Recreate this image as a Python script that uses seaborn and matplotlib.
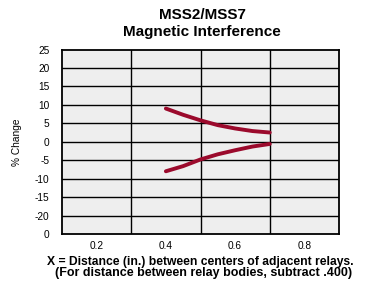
import matplotlib
matplotlib.use("Agg")
import matplotlib.pyplot as plt
import seaborn as sns
import pandas as pd

# Data
x_vals = [0.4, 0.45, 0.5, 0.55, 0.6, 0.65, 0.7]
upper_vals = [9.0, 7.3, 5.8, 4.5, 3.6, 2.9, 2.5]
lower_vals = [-8.0, -6.6, -4.8, -3.4, -2.3, -1.3, -0.6]
x_ticks = [0.2, 0.4, 0.6, 0.8]
x_tick_labels = ["0.2", "0.4", "0.6", "0.8"]
y_ticks = [25, 20, 15, 10, 5, 0, -5, -10, -15, -20, -25]
y_tick_labels = ["25", "20", "15", "10", "5", "0", "-5", "-10", "-15", "-20", "0"]
x_grid = [0.3, 0.5, 0.7]

df = pd.DataFrame({
    "x": x_vals + x_vals,
    "y": upper_vals + lower_vals,
    "series": ["upper"] * len(x_vals) + ["lower"] * len(x_vals),
})

sns.set_style("white")
plt.rcParams['font.family'] = ['Liberation Sans', 'DejaVu Sans']
plt.rcParams['text.color'] = 'black'
plt.rcParams['xtick.color'] = 'black'
plt.rcParams['ytick.color'] = 'black'
plt.rcParams['axes.labelcolor'] = 'black'

fig = plt.figure(figsize=(3.69, 2.89), dpi=100)
ax = fig.add_axes([62/369, 1 - 234/289, 277/369, 184.5/289])
ax.set_facecolor("#eeeeee")

line_color = "#9b0a2c"
sns.lineplot(data=df, x="x", y="y", hue="series", palette=[line_color, line_color],
             linewidth=2.8, legend=False, ax=ax, estimator=None, sort=True)

ax.set_xlim(0.1, 0.9)
ax.set_ylim(-25, 25)
ax.set_xticks(x_ticks)
ax.set_xticklabels(x_tick_labels, fontsize=7.3)
ax.set_xticks(x_grid, minor=True)
ax.set_yticks(y_ticks)
ax.set_yticklabels(y_tick_labels, fontsize=7.3)
ax.tick_params(axis="both", which="both", length=0)
ax.tick_params(axis="y", pad=9)
ax.tick_params(axis="x", pad=5)

for yv in y_ticks[1:-1]:
    ax.axhline(yv, color="black", linewidth=1.0, zorder=1)
for xv in x_grid:
    ax.axvline(xv, color="black", linewidth=1.0, zorder=1)

for s in ax.spines.values():
    s.set_visible(True)
    s.set_color("black")
    s.set_linewidth(1.3)

ax.set_xlabel("")
ax.set_ylabel("% Change", fontsize=7.3)
ax.yaxis.set_label_coords(-0.145, 0.5)

fig.text(202/369, 1 - 15/289, "MSS2/MSS7", ha="center", va="center",
         fontsize=11, fontweight="bold")
fig.text(202/369, 1 - 32/289, "Magnetic Interference", ha="center", va="center",
         fontsize=11, fontweight="bold")
fig.text(200/369, 1 - 262/289, "X = Distance (in.) between centers of adjacent relays.",
         ha="center", va="center", fontsize=8.7, fontweight="bold")
fig.text(204/369, 1 - 273/289, "(For distance between relay bodies, subtract .400)",
         ha="center", va="center", fontsize=9.0, fontweight="bold")

fig.savefig("out.png", dpi=100)
